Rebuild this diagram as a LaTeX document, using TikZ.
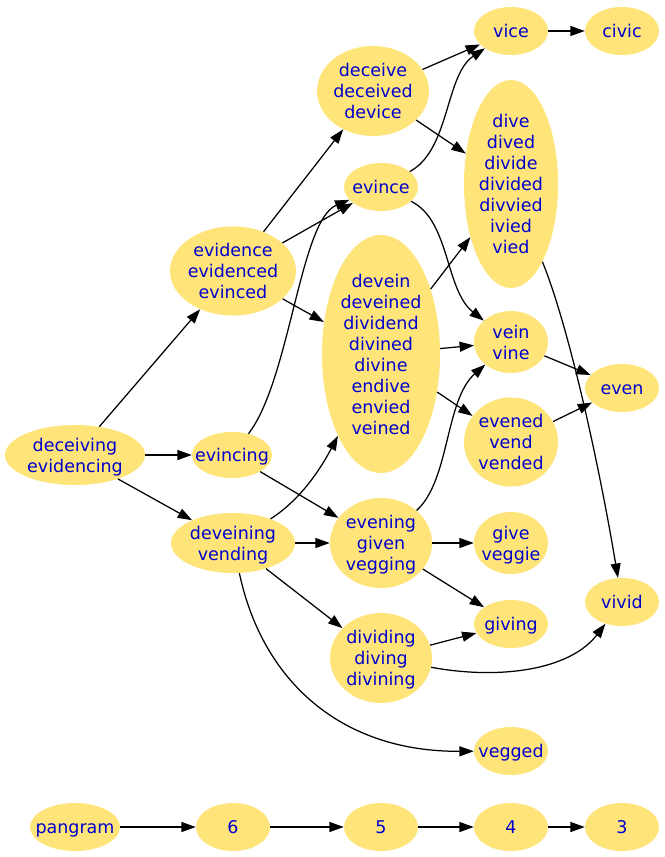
\documentclass[tikz,border=0pt]{standalone}
\usepackage{fontspec}
\setmainfont{DejaVu Sans}
\usetikzlibrary{shapes.geometric,arrows.meta}
\definecolor{wordfill}{RGB}{255,228,122}
\definecolor{wordtext}{RGB}{0,0,205}
% text of a word node, of no width, so that the ellipse keeps its own size
\newcommand\wl[1]{\hbox to 0pt{\hss\raisebox{-2pt}[\height][\depth]{\begin{tabular}{@{}c@{}}#1\end{tabular}}\hss}}

\begin{document}
\begin{tikzpicture}[x=0.8pt,y=-0.8pt,
    word/.style={ellipse,fill=wordfill,text=wordtext,inner sep=0pt,
      font=\fontsize{14pt}{16.8pt}\selectfont},
    sz/.style 2 args={minimum width=#1*0.8pt,minimum height=#2*0.8pt},
    arr/.style={-{Triangle[length=11.5pt,width=8pt]},line width=1pt}]
  \useasboundingbox (0,0) rectangle (665,857);

  \node[word,sz={140}{60}]  (deceiving) at (75,455)  {\wl{deceiving\\evidencing}};
  \node[word,sz={80}{46}]   (evincing)  at (232,455) {\wl{evincing}};
  \node[word,sz={124}{60}]  (deveining) at (233,543) {\wl{deveining\\vending}};
  \node[word,sz={126}{86}]  (evidence)  at (233,271) {\wl{evidence\\evidenced\\evinced}};
  \node[word,sz={112}{90}]  (deceive)   at (373,91)  {\wl{deceive\\deceived\\device}};
  \node[word,sz={74}{48}]   (evince)    at (381,187) {\wl{evince}};
  \node[word,sz={118}{238}] (devein)    at (381,354) {\wl{devein\\deveined\\dividend\\divined\\divine\\endive\\envied\\veined}};
  \node[word,sz={102}{90}]  (evening)   at (381,543) {\wl{evening\\given\\vegging}};
  \node[word,sz={102}{90}]  (dividing)  at (381,658) {\wl{dividing\\diving\\divining}};
  \node[word,sz={74}{48}]   (vice)      at (511,31)  {\wl{vice}};
  \node[word,sz={94}{208}]  (dive)      at (511,184) {\wl{dive\\dived\\divide\\divided\\divvied\\ivied\\vied}};
  \node[word,sz={74}{62}]   (vein)      at (511,342) {\wl{vein\\vine}};
  \node[word,sz={94}{88}]   (evened)    at (511,442) {\wl{evened\\vend\\vended}};
  \node[word,sz={74}{62}]   (give)      at (511,543) {\wl{give\\veggie}};
  \node[word,sz={74}{48}]   (giving)    at (511,624) {\wl{giving}};
  \node[word,sz={74}{48}]   (vegged)    at (511,751) {\wl{vegged}};
  \node[word,sz={74}{48}]   (civic)     at (622,31)  {\wl{civic}};
  \node[word,sz={74}{48}]   (even)      at (622,388) {\wl{even}};
  \node[word,sz={74}{48}]   (vivid)     at (622,602) {\wl{vivid}};

  % bottom row
  \node[word,sz={90}{48}] (pangram) at (75,827)  {\wl{pangram}};
  \node[word,sz={74}{48}] (n6)      at (233,827) {\wl{6}};
  \node[word,sz={74}{48}] (n5)      at (381,827) {\wl{5}};
  \node[word,sz={74}{48}] (n4)      at (511,827) {\wl{4}};
  \node[word,sz={74}{48}] (n3)      at (622,827) {\wl{3}};

  \path[arr] (deceiving) edge (evincing)
             (deceiving) edge (deveining)
             (deceiving) edge (evidence)
             (evidence)  edge (deceive)
             (evidence)  edge (evince)
             (evidence)  edge (devein)
             (evincing)  edge (evening)
             (deveining) edge (evening)
             (deveining) edge (dividing)
             (deceive)   edge (vice)
             (deceive)   edge (dive)
             (devein)    edge (dive)
             (devein)    edge (vein)
             (devein)    edge (evened)
             (vice)      edge (civic)
             (vein)      edge (even)
             (evened)    edge (even)
             (evening)   edge (give)
             (evening)   edge (giving)
             (dividing)  edge (giving)
             (pangram)   edge (n6)
             (n6)        edge (n5)
             (n5)        edge (n4)
             (n4)        edge (n3);

  % curved ones
  \draw[arr] (evincing)  .. controls (290,380) and (300,220) .. (evince);
  \draw[arr] (deveining) .. controls (300,500) and (320,470) .. (devein);
  \draw[arr] (deveining) .. controls (262,680) and (340,752) .. (vegged);
  \draw[arr] (evince)    .. controls (450,150) and (445,75)  .. (vice);
  \draw[arr] (evince)    .. controls (450,220) and (445,290) .. (vein);
  \draw[arr] (evening)   .. controls (450,480) and (445,400) .. (vein);
  \draw[arr] (dive)      .. controls (570,330) and (600,470) .. (vivid);
  \draw[arr] (dividing)  .. controls (500,680) and (570,670) .. (vivid);
\end{tikzpicture}
\end{document}
